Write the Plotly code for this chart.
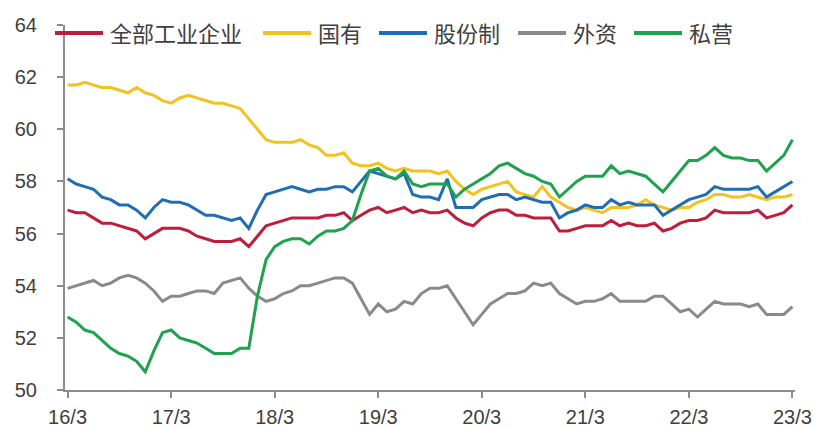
import plotly.graph_objects as go

# ---------------- data (monthly, 2016/3 .. 2023/3) ----------------
tick_labels = ["16/3", "17/3", "18/3", "19/3", "20/3", "21/3", "22/3", "23/3"]

series_names = ["全部工业企业", "国有", "股份制", "外资", "私营"]

all_industry = [56.9, 56.8, 56.8, 56.6, 56.4, 56.4, 56.3, 56.2, 56.1, 55.8,
                56.0, 56.2, 56.2, 56.2, 56.1, 55.9, 55.8, 55.7, 55.7, 55.7,
                55.8, 55.5, 55.9, 56.3, 56.4, 56.5, 56.6, 56.6, 56.6, 56.6,
                56.7, 56.7, 56.8, 56.5, 56.7, 56.9, 57.0, 56.8, 56.9, 57.0,
                56.8, 56.9, 56.8, 56.8, 56.9, 56.6, 56.4, 56.3, 56.6, 56.8,
                56.9, 56.9, 56.7, 56.7, 56.6, 56.6, 56.6, 56.1, 56.1, 56.2,
                56.3, 56.3, 56.3, 56.5, 56.3, 56.4, 56.3, 56.3, 56.4, 56.1,
                56.2, 56.4, 56.5, 56.5, 56.6, 56.9, 56.8, 56.8, 56.8, 56.8,
                56.9, 56.6, 56.7, 56.8, 57.1]

state_owned = [61.7, 61.7, 61.8, 61.7, 61.6, 61.6, 61.5, 61.4, 61.6, 61.4,
               61.3, 61.1, 61.0, 61.2, 61.3, 61.2, 61.1, 61.0, 61.0, 60.9,
               60.8, 60.4, 60.0, 59.6, 59.5, 59.5, 59.5, 59.6, 59.4, 59.3,
               59.0, 59.0, 59.1, 58.7, 58.6, 58.6, 58.7, 58.5, 58.4, 58.5,
               58.4, 58.4, 58.4, 58.3, 58.4, 58.0, 57.7, 57.5, 57.7, 57.8,
               57.9, 58.0, 57.6, 57.5, 57.4, 57.8, 57.4, 57.2, 57.0, 56.9,
               57.0, 56.9, 56.8, 57.0, 57.0, 57.0, 57.1, 57.3, 57.1, 57.0,
               56.9, 57.0, 57.0, 57.2, 57.3, 57.5, 57.5, 57.4, 57.4, 57.5,
               57.4, 57.3, 57.4, 57.4, 57.5]

joint_stock = [58.1, 57.9, 57.8, 57.7, 57.4, 57.3, 57.1, 57.1, 56.9, 56.6,
               57.0, 57.3, 57.2, 57.2, 57.1, 56.9, 56.7, 56.7, 56.6, 56.5,
               56.6, 56.2, 56.9, 57.5, 57.6, 57.7, 57.8, 57.7, 57.6, 57.7,
               57.7, 57.8, 57.8, 57.6, 58.0, 58.4, 58.3, 58.2, 58.1, 58.3,
               57.5, 57.4, 57.4, 57.3, 58.1, 57.0, 57.0, 57.0, 57.3, 57.4,
               57.5, 57.5, 57.3, 57.4, 57.3, 57.2, 57.2, 56.6, 56.8, 56.9,
               57.1, 57.0, 57.0, 57.3, 57.1, 57.2, 57.1, 57.1, 57.1, 56.7,
               56.9, 57.1, 57.3, 57.4, 57.5, 57.8, 57.7, 57.7, 57.7, 57.7,
               57.8, 57.4, 57.6, 57.8, 58.0]

foreign = [53.9, 54.0, 54.1, 54.2, 54.0, 54.1, 54.3, 54.4, 54.3, 54.1,
           53.8, 53.4, 53.6, 53.6, 53.7, 53.8, 53.8, 53.7, 54.1, 54.2,
           54.3, 53.9, 53.6, 53.4, 53.5, 53.7, 53.8, 54.0, 54.0, 54.1,
           54.2, 54.3, 54.3, 54.1, 53.5, 52.9, 53.3, 53.0, 53.1, 53.4,
           53.3, 53.7, 53.9, 53.9, 54.0, 53.5, 53.0, 52.5, 52.9, 53.3,
           53.5, 53.7, 53.7, 53.8, 54.1, 54.0, 54.1, 53.7, 53.5, 53.3,
           53.4, 53.4, 53.5, 53.7, 53.4, 53.4, 53.4, 53.4, 53.6, 53.6,
           53.3, 53.0, 53.1, 52.8, 53.1, 53.4, 53.3, 53.3, 53.3, 53.2,
           53.3, 52.9, 52.9, 52.9, 53.2]

private = [52.8, 52.6, 52.3, 52.2, 51.9, 51.6, 51.4, 51.3, 51.1, 50.7,
           51.5, 52.2, 52.3, 52.0, 51.9, 51.8, 51.6, 51.4, 51.4, 51.4,
           51.6, 51.6, 53.6, 55.0, 55.5, 55.7, 55.8, 55.8, 55.6, 55.9,
           56.1, 56.1, 56.2, 56.5, 57.5, 58.4, 58.5, 58.2, 58.1, 58.4,
           57.9, 57.8, 57.9, 57.9, 57.9, 57.4, 57.7, 57.9, 58.1, 58.3,
           58.6, 58.7, 58.5, 58.3, 58.2, 58.0, 57.9, 57.4, 57.7, 58.0,
           58.2, 58.2, 58.2, 58.6, 58.3, 58.4, 58.3, 58.2, 57.9, 57.6,
           58.0, 58.4, 58.8, 58.8, 59.0, 59.3, 59.0, 58.9, 58.9, 58.8,
           58.8, 58.4, 58.7, 59.0, 59.6]

y_ticks = [50, 52, 54, 56, 58, 60, 62, 64]

# ---------------- styling ----------------
W, H = 816, 427
ML, MR, MT, MB = 65, 21, 25, 37
PW, PH = W - ML - MR, H - MT - MB
colors = ["#BE1E3C", "#F2C21E", "#1F6DB5", "#8A8A8A", "#1FA24E"]
values = [all_industry, state_owned, joint_stock, foreign, private]

x_idx = list(range(len(all_industry)))

fig = go.Figure()
for name, col, vals in zip(series_names, colors, values):
    fig.add_trace(go.Scatter(x=x_idx, y=vals, mode="lines", name=name,
                             line=dict(color=col, width=3), showlegend=False))

axis_col = "#8C8C8C"
tick_font = dict(family="Liberation Sans, Arial, sans-serif", size=20, color="#404040")

fig.update_layout(
    width=W, height=H,
    margin=dict(l=ML, r=MR, t=MT, b=MB, autoexpand=False),
    paper_bgcolor="white", plot_bgcolor="white",
    xaxis=dict(range=[-0.3, len(x_idx) - 1 + 0.3],
               tickvals=[12 * k for k in range(len(tick_labels))],
               ticktext=tick_labels, automargin=False,
               showgrid=False, zeroline=False,
               showline=True, linecolor=axis_col, linewidth=2,
               ticks="outside", ticklen=6, tickwidth=2, tickcolor=axis_col,
               tickfont=tick_font, ticklabelstandoff=2),
    yaxis=dict(range=[50, 64], tickvals=y_ticks, automargin=False,
               showgrid=False, zeroline=False,
               showline=True, linecolor=axis_col, linewidth=2,
               ticks="outside", ticklen=6, tickwidth=2, tickcolor=axis_col,
               tickfont=tick_font, ticklabelstandoff=16),
)

# ---------------- manual legend (top, horizontal) ----------------
def px2x(px):
    return (px - ML) / PW

def py2y(py):
    return (H - MB - py) / PH

leg_font = dict(family="Noto Sans CJK SC", size=22, color="#404040")
char_w = 23
line_len, txt_gap, item_gap = 48, 5, 17
cur = 55
ly = 33
for name, col in zip(series_names, colors):
    fig.add_shape(type="line", xref="paper", yref="paper",
                  x0=px2x(cur), x1=px2x(cur + line_len),
                  y0=py2y(ly), y1=py2y(ly),
                  line=dict(color=col, width=4), layer="above")
    tx = cur + line_len + txt_gap
    fig.add_annotation(xref="paper", yref="paper", x=px2x(tx), y=py2y(ly - 1),
                       text=name, showarrow=False, xanchor="left", yanchor="middle",
                       font=leg_font)
    cur = tx + char_w * len(name) + item_gap

fig.write_html("out.html")
